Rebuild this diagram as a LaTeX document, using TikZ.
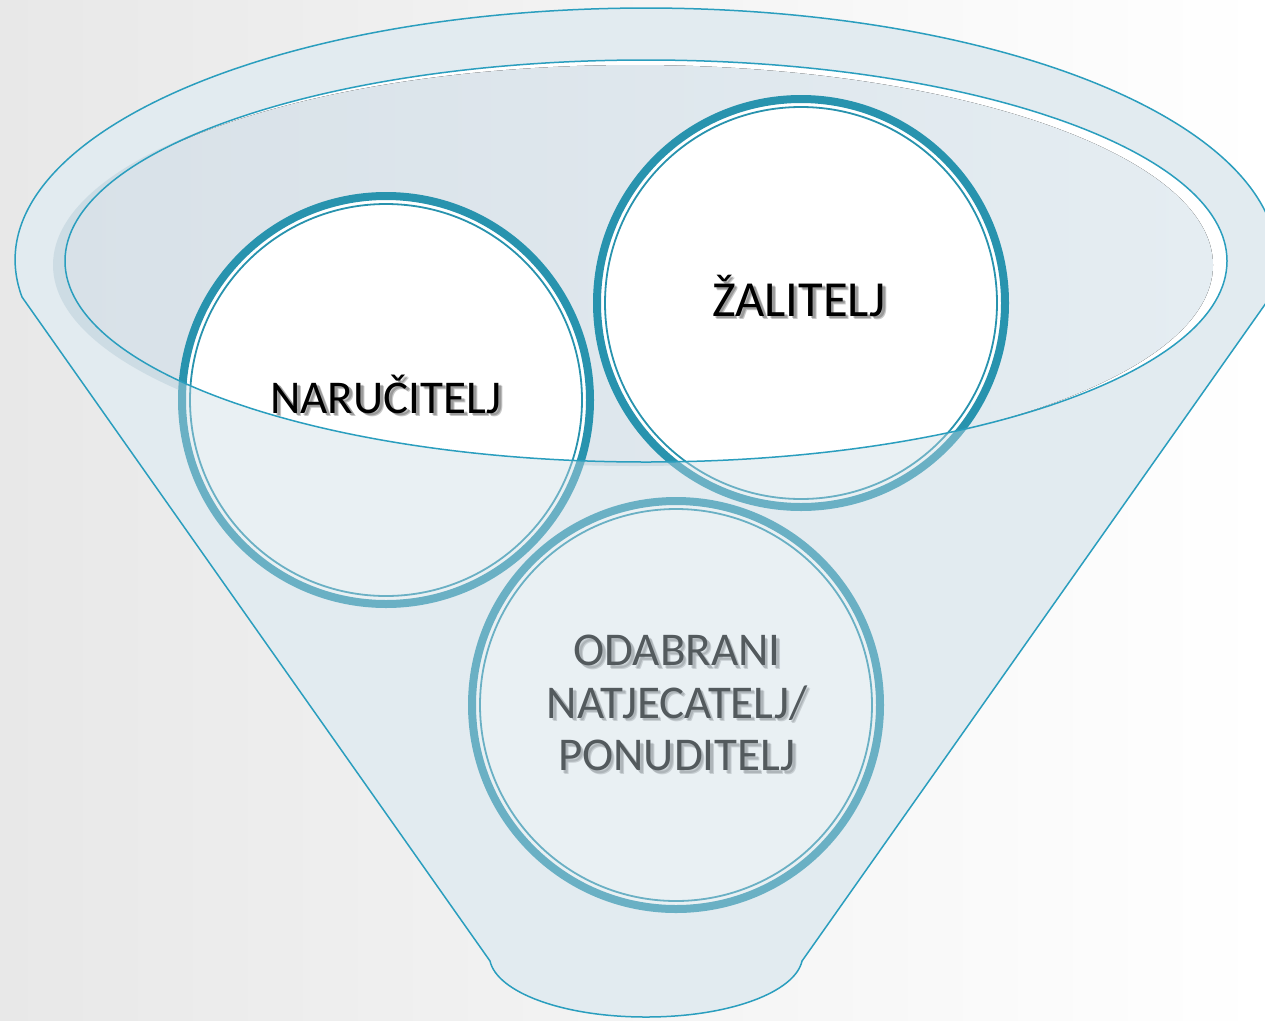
\documentclass[tikz,border=0pt]{standalone}
\usepackage{fontspec}
\setmainfont{Carlito}
\definecolor{ringteal}{RGB}{40,147,174}
\definecolor{lineteal}{RGB}{42,158,190}
\definecolor{ovl}{RGB}{202,219,228}
\definecolor{backf}{RGB}{243,247,249}
\definecolor{innerA}{RGB}{216,225,232}
\definecolor{innerB}{RGB}{229,237,242}
\definecolor{shadowc}{RGB}{208,222,229}
\definecolor{bgleft}{RGB}{232,232,232}
\tikzset{
  ringnode/.style={circle, minimum size=408pt, inner sep=0pt, fill=white, draw=ringteal, line width=8pt},
  thinring/.style={draw=ringteal, line width=1.8pt},
  labeltext/.style={inner sep=0pt, font=\fontsize{47}{52.5}\selectfont, align=center},
  bigtext/.style={inner sep=0pt, font=\fontsize{50.5}{56}\selectfont, align=center},
  softshadow/.style={text=black, opacity=0.22},
  outline/.style={draw=lineteal, line width=1.5pt}
}
\begin{document}
\begin{tikzpicture}[x=1pt, y=-1pt]
\useasboundingbox (0,0) rectangle (1265,1020);
\clip (0,0) rectangle (1265,1020);
% background
\shade[left color=bgleft, right color=white] (0,0) rectangle (1265,1020);
% funnel back
\def\funnelpath{(22,297) arc[start angle=171.56, end angle=368.44, x radius=631, y radius=252] -- (802,961) .. controls (795,992) and (730,1017) .. (646,1017) .. controls (562,1017) and (497,992) .. (490,961) -- cycle}
\fill[backf] \funnelpath;
% inner ellipse shadow and fill with highlight
\fill[shadowc] (634,265) ellipse [x radius=581, y radius=201];
\begin{scope}
  \clip (646,261) ellipse [x radius=581, y radius=201];
  \fill[white] (646,261) ellipse [x radius=581, y radius=201];
  \fill[left color=innerA, right color=innerB] (635,265) ellipse [x radius=578, y radius=200];
\end{scope}
% circles
\node[ringnode] (naru) at (386,400) {};
\node[ringnode] (zali) at (801,303) {};
\node[ringnode] (odab) at (676,705) {};
\draw[thinring] (naru.center) circle [radius=196pt];
\draw[thinring] (zali.center) circle [radius=196pt];
\draw[thinring] (odab.center) circle [radius=196pt];
% texts with soft drop shadows
\node[labeltext, softshadow, anchor=base] (naruS) at (389,415.5) {NARUČITELJ};
\node[labeltext, softshadow, anchor=base] (naruS2) at (390,416.5) {NARUČITELJ};
\node[labeltext, anchor=base] (naruT) at (386,413) {NARUČITELJ};
\node[bigtext, softshadow, anchor=base] (zaliS) at (801.5,318.5) {ŽALITELJ};
\node[bigtext, softshadow, anchor=base] (zaliS2) at (802.5,319.5) {ŽALITELJ};
\node[bigtext, anchor=base] (zaliT) at (799,316) {ŽALITELJ};
\node[labeltext, softshadow] (odabS) at (679.5,705.5) {ODABRANI\\NATJECATELJ/\\PONUDITELJ};
\node[labeltext, softshadow] (odabS2) at (680.5,706.5) {ODABRANI\\NATJECATELJ/\\PONUDITELJ};
\node[labeltext] (odabT) at (677,703) {ODABRANI\\NATJECATELJ/\\PONUDITELJ};
% front translucent overlay of the funnel
\fill[ovl, fill opacity=0.41, even odd rule] \funnelpath (646,261) ellipse [x radius=581, y radius=201];
% outlines
\draw[outline] \funnelpath;
\draw[outline] (646,261) ellipse [x radius=581, y radius=201];
\end{tikzpicture}
\end{document}
